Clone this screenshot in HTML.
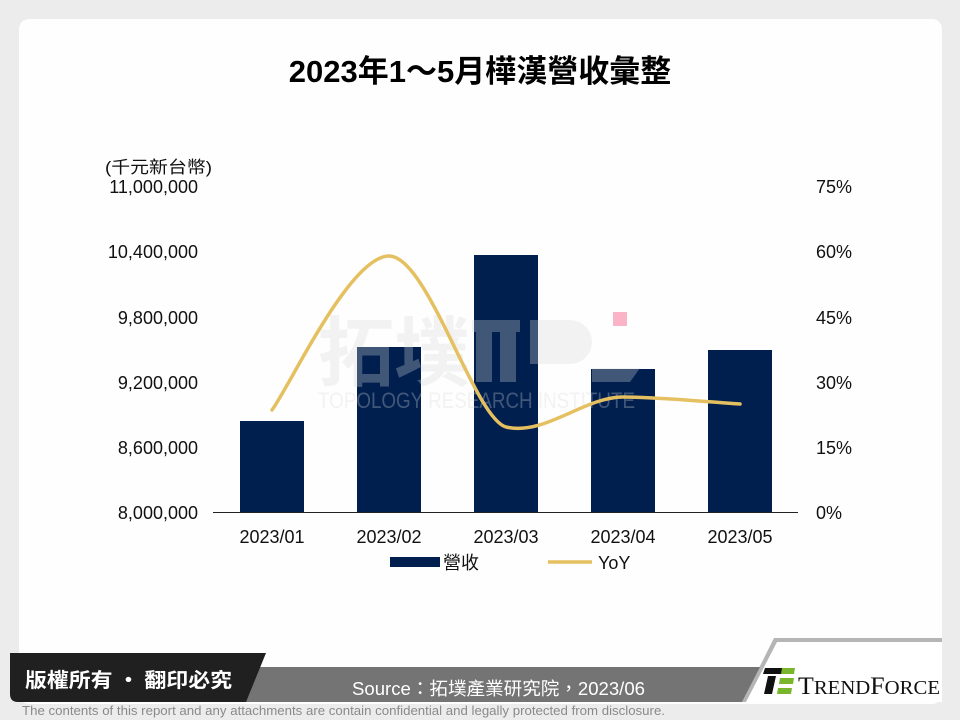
<!DOCTYPE html>
<html><head><meta charset="utf-8"><style>
html,body{margin:0;padding:0;background:#ececec;}
body{width:960px;height:720px;position:relative;overflow:hidden;font-family:"Liberation Sans","Noto Sans CJK TC",sans-serif;}
</style></head><body>
<svg width="960" height="720" xmlns="http://www.w3.org/2000/svg" style="position:absolute;left:0;top:0">
<rect x="19" y="19" width="923" height="685" rx="10" fill="#fefefe"/>
<text x="480" y="82" text-anchor="middle" font-family="Liberation Sans,Noto Sans CJK TC,sans-serif" font-weight="bold" font-size="31" fill="#000">2023年1～5月樺漢營收彙整</text>
<g font-size="18" fill="#111" text-anchor="end" font-family="Liberation Sans,sans-serif">
<text x="198" y="193">11,000,000</text>
<text x="198" y="258">10,400,000</text>
<text x="198" y="324">9,800,000</text>
<text x="198" y="389">9,200,000</text>
<text x="198" y="454">8,600,000</text>
<text x="198" y="519">8,000,000</text>
</g>
<text x="105" y="173" font-size="17" fill="#111" font-family="Liberation Sans,Noto Sans CJK TC,sans-serif" textLength="107" lengthAdjust="spacingAndGlyphs">(千元新台幣)</text>
<g font-size="18" fill="#111" text-anchor="start" font-family="Liberation Sans,sans-serif">
<text x="816" y="193">75%</text>
<text x="816" y="258">60%</text>
<text x="816" y="324">45%</text>
<text x="816" y="389">30%</text>
<text x="816" y="454">15%</text>
<text x="816" y="519">0%</text>
</g>
<g fill="#001f4f">
<rect x="240" y="421" width="64" height="91"/>
<rect x="357" y="347" width="64" height="165"/>
<rect x="474" y="255" width="64" height="257"/>
<rect x="591" y="369" width="64" height="143"/>
<rect x="708" y="350" width="64" height="162"/>
</g>
<g opacity="0.3" fill="#d8d8d8">
<text x="318" y="380" font-family="Noto Sans CJK TC,sans-serif" font-weight="bold" font-size="76">拓墣</text>
<rect x="476" y="320" width="16" height="62"/><rect x="500" y="320" width="16" height="62"/><rect x="472" y="320" width="48" height="12"/>
<path d="M530,320 h40 a22,22 0 0 1 0,44 h-40 z M592,368 h48 l-10,14 h-38 z"/>
<text x="318" y="408" font-family="Liberation Sans,sans-serif" font-size="22" textLength="317" lengthAdjust="spacingAndGlyphs">TOPOLOGY RESEARCH INSTITUTE</text>
</g>
<rect x="613" y="312" width="14" height="14" fill="#fbb3c8"/>
<line x1="213" y1="512.5" x2="798" y2="512.5" stroke="#222" stroke-width="1"/>
<path d="M272,410 C291,384 350,256 389,256 C428,256 474,418 506,427 C545,436 584,397 623,397 C662,397 721,403 740,404" fill="none" stroke="#e5c060" stroke-width="3.5" stroke-linecap="round"/>
<g font-size="18" fill="#111" text-anchor="middle" font-family="Liberation Sans,sans-serif">
<text x="272" y="543">2023/01</text>
<text x="389" y="543">2023/02</text>
<text x="506" y="543">2023/03</text>
<text x="623" y="543">2023/04</text>
<text x="740" y="543">2023/05</text>
</g>
<rect x="390" y="557" width="50" height="10" fill="#001f4f"/>
<text x="443" y="569" font-size="18" fill="#111" font-family="Liberation Sans,Noto Sans CJK TC,sans-serif">營收</text>
<line x1="548" y1="562" x2="592" y2="562" stroke="#e5c060" stroke-width="3.5"/>
<text x="598" y="569" font-size="18" fill="#111" font-family="Liberation Sans,sans-serif">YoY</text>
<!-- footer -->
<polygon points="774,638 942,638 942,702 742,702" fill="#b5b5b5"/>
<polygon points="777,642 942,642 942,702 746,702" fill="#fff"/>
<polygon points="245,667 760,667 742,702 235,702" fill="#747474"/>
<path d="M10,653 L266,653 L246,702 L18,702 Q10,702 10,694 Z" fill="#202020"/>
<text x="25" y="687" font-size="20" font-weight="bold" fill="#fff" font-family="Noto Sans CJK TC,sans-serif" textLength="207" lengthAdjust="spacingAndGlyphs">版權所有 · 翻印必究</text>
<text x="352" y="695" font-size="18" fill="#fff" font-family="Liberation Sans,Noto Sans CJK TC,sans-serif" textLength="293" lengthAdjust="spacingAndGlyphs">Source：拓墣產業研究院，2023/06</text>
<g>
<polygon points="765,668 784,668 782,674 763,674" fill="#111"/>
<polygon points="768,676 776,676 772,694 764,694" fill="#111"/>
<polygon points="782,668 795,668 794,674 781,674" fill="#7ab52e"/>
<polygon points="780,678 794,678 793,684 779,684" fill="#7ab52e"/>
<polygon points="778,688 792,688 791,694 777,694" fill="#7ab52e"/>
</g>
<text x="798" y="694" font-size="25" fill="#111" font-family="Liberation Serif,serif" textLength="142" lengthAdjust="spacingAndGlyphs">T<tspan font-size="20">REND</tspan>F<tspan font-size="20">ORCE</tspan></text>
<text x="22" y="715" font-size="13" fill="#8a8a8a" font-family="Liberation Sans,sans-serif" textLength="643" lengthAdjust="spacingAndGlyphs">The contents of this report and any attachments are contain confidential and legally protected from disclosure.</text>
</svg>
</body></html>
